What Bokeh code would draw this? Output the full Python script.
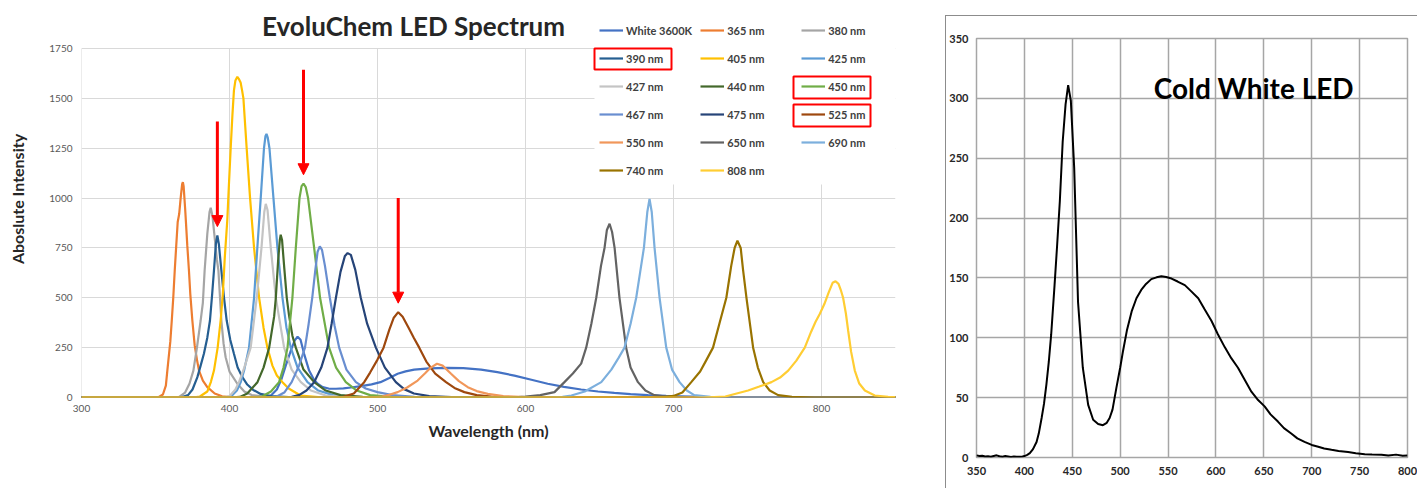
from bokeh.plotting import figure
from bokeh.models import (Legend, LegendItem, Arrow, NormalHead, BoxAnnotation,
                          FixedTicker, Range1d, Label)
from bokeh.layouts import row
from bokeh.embed import file_html
from bokeh.resources import INLINE

FONT = "Lato"

# ---------------- data: left chart (EvoluChem LED Spectrum) ----------------
series_names = ["White 3600K", "365 nm", "380 nm", "390 nm", "405 nm", "425 nm",
                "427 nm", "440 nm", "450 nm", "467 nm", "475 nm", "525 nm",
                "550 nm", "650 nm", "690 nm", "740 nm", "808 nm"]
series_colors = ["#4472C4", "#ED7D31", "#A5A5A5", "#255E91", "#FFC000", "#5B9BD5",
                 "#C4C4C4", "#43682B", "#70AD47", "#698ED0", "#264478", "#9E480E",
                 "#F1975A", "#636363", "#7CAFDD", "#997300", "#FFCD33"]

wl_white = [300, 420, 425, 428, 432, 435, 438, 441.9, 444, 446, 448, 450.4, 453.8, 457, 459.5, 463, 467, 472, 477, 482,
            490, 496, 502, 508, 513.6, 519, 524.8, 535, 547.4, 558, 570, 581, 592.5, 604, 615, 626, 637.6, 649, 660, 671,
            682.7, 695, 705, 720, 740, 760, 850]
int_white = [0, 0, 3, 10, 40, 90, 160, 245, 285, 305, 290, 219, 135, 90, 69, 52, 45, 44, 46, 50,
             58, 66, 77, 98, 119, 131, 140, 146, 149, 147, 140, 127, 110, 89, 69, 53, 40, 30, 23, 17,
             12, 8, 6, 3, 1, 0, 0]

wl_365 = [300, 345, 352, 355, 357, 358, 360, 361, 362, 363, 364, 365, 366, 367, 368, 368.5, 369, 370, 370.5, 371.5,
          372.6, 373.5, 374.9, 376.5, 378, 379.4, 382, 385, 390, 395, 400, 420, 850]
int_365 = [0, 0, 2, 15, 60, 135, 280, 386, 500, 637, 760, 880, 920, 1000, 1070, 1080, 1060, 950, 888, 760,
           637, 520, 386, 260, 190, 135, 85, 52, 20, 6, 2, 0, 0]

wl_380 = [300, 360, 366, 370, 373, 375.6, 378, 380.5, 382, 383.2, 385, 386.5, 387.3, 388.5, 390, 391.5, 392.5, 394.5,
          396, 397.4, 400, 405.3, 410, 415, 425, 440, 850]
int_380 = [0, 0, 3, 25, 70, 135, 250, 386, 475, 637, 820, 930, 951, 910, 800, 690, 637, 386,
           270, 202, 130, 69, 30, 12, 3, 0, 0]

wl_390 = [300, 360, 368, 372, 375, 378.3, 380.5, 382.7, 385, 386.8, 388.3, 389.5, 390.8, 391.8, 392.8, 393.7, 394.5,
          396.3, 398.1, 400.5, 403, 405.5, 408.7, 412, 416, 421, 428, 440, 460, 850]
int_390 = [0, 0, 2, 12, 40, 102, 160, 219, 300, 386, 520, 637, 770, 812, 770, 700, 637,
           500, 386, 290, 219, 150, 102, 65, 38, 18, 7, 2, 0, 0]

wl_405 = [300, 375, 380, 385, 387.5, 389.5, 392, 394, 395.5, 396.8, 398.5, 399.5, 400.8, 402, 403, 404, 405.3, 406.5,
          407.5, 408.5, 409.4, 411.6, 413.9, 416.6, 420, 423, 425.6, 429, 432, 435.8, 440, 448, 460, 480, 850]
int_405 = [0, 0, 5, 30, 80, 135, 250, 386, 520, 700, 888, 1050, 1250, 1420, 1540, 1590, 1608, 1595,
           1580, 1540, 1500, 1250, 1000, 750, 500, 350, 250, 160, 110, 77, 45, 10, 2, 0, 0]

wl_425 = [300, 395, 401, 405, 407.6, 410, 413.2, 416.6, 418.8, 421.1, 423.3, 424.3, 425, 425.8, 427, 429.7, 432.4,
          435.8, 438.5, 441.4, 446, 452.7, 460, 470, 485, 500, 850]
int_425 = [0, 0, 5, 35, 77, 140, 250, 500, 750, 1000, 1250, 1310, 1322, 1305, 1250, 1000, 750,
           500, 350, 250, 150, 77, 35, 12, 3, 0, 0]

wl_427 = [300, 395, 400, 404, 406.4, 410, 414.3, 418.4, 421.6, 423.5, 424.5, 425.7, 427.9, 431.3, 436.9, 442, 448.2,
          455, 465, 480, 500, 850]
int_427 = [0, 0, 6, 40, 77, 150, 250, 500, 750, 930, 971, 940, 750, 500, 250, 140, 77,
           35, 10, 2, 0, 0]

wl_440 = [300, 400, 407, 412, 418.9, 423, 426.8, 430.2, 431.3, 432.8, 434, 434.6, 435.5, 437, 438.7, 440.3, 442.5,
          444.8, 450, 457.2, 465, 475, 490, 510, 850]
int_440 = [0, 0, 3, 20, 77, 150, 250, 408, 500, 680, 790, 816, 790, 650, 500, 408, 310,
           250, 140, 77, 35, 12, 3, 0, 0]

wl_450 = [300, 415, 422, 428, 433.5, 436.5, 439.2, 442.5, 444.8, 447.3, 448.7, 450, 451.5, 453.1, 457.2, 461.2, 467.3,
          472, 478.6, 486, 495, 510, 530, 850]
int_450 = [0, 0, 5, 30, 77, 150, 250, 500, 750, 1000, 1060, 1072, 1055, 1000, 750, 500, 250,
           150, 77, 35, 12, 3, 0, 0]

wl_467 = [300, 425, 432, 437, 442, 447, 451, 453.5, 455.9, 458, 459.5, 461, 462.5, 464.5, 467.8, 471, 474.1,
          479, 485.4, 492, 500, 510, 525, 545, 850]
int_467 = [0, 0, 5, 25, 77, 160, 250, 370, 500, 640, 730, 758, 740, 660, 500, 360, 250,
           140, 77, 45, 27, 12, 3, 0, 0]

wl_475 = [300, 435, 442, 447, 452, 457.2, 462, 466.2, 469, 471.9, 475, 478, 479.8, 482, 485, 488.7, 493,
          498.9, 505, 512.4, 518, 524.6, 535, 550, 570, 850]
int_475 = [0, 0, 3, 12, 35, 77, 150, 250, 370, 500, 630, 710, 724, 715, 640, 500, 370,
           250, 150, 77, 42, 20, 7, 2, 0, 0]

wl_525 = [300, 470, 477, 484, 491, 495, 500, 504.1, 508, 511, 514, 517, 521, 524.5, 528.2, 533, 539,
          546.3, 552, 558.7, 567, 577, 590, 850]
int_525 = [0, 0, 3, 20, 77, 125, 190, 250, 340, 400, 428, 405, 350, 300, 250, 180, 120,
           77, 48, 27, 12, 4, 0, 0]

wl_550 = [300, 495, 503, 508, 513.6, 520, 527.1, 532, 536, 540.2, 544, 549.7, 555, 561, 567, 574.5, 585, 600, 620, 850]
int_550 = [0, 0, 5, 14, 27, 50, 85, 120, 150, 169, 160, 119, 82, 52, 32, 18, 7, 2, 0, 0]

wl_650 = [300, 590, 600, 610, 619.6, 626.3, 632, 637.6, 641, 644.5, 647.8, 651, 653.4, 655, 656.8, 658.5, 660.2,
          663.5, 668, 671, 676, 681, 687, 695, 710, 850]
int_650 = [0, 0, 4, 12, 27, 77, 120, 170, 250, 370, 500, 660, 750, 840, 871, 830, 750,
           500, 250, 150, 77, 35, 12, 4, 0, 0]

wl_690 = [300, 615, 625, 631, 640, 651.2, 658, 663, 666.9, 671, 674.8, 677.5, 680, 682.3, 683.8, 685.3, 687.2,
          690.6, 695.1, 699, 704.1, 709, 714, 725, 740, 850]
int_690 = [0, 0, 3, 10, 30, 77, 140, 200, 250, 370, 500, 630, 750, 930, 996, 930, 750,
           500, 250, 140, 77, 35, 12, 3, 0, 0]

wl_740 = [300, 690, 700, 706, 712, 718, 722, 726.7, 731, 735.7, 739, 741.3, 743.2, 745.4, 747, 749.3, 753.8,
          757, 760.6, 765, 770.7, 780, 795, 850]
int_740 = [0, 0, 8, 25, 77, 130, 185, 250, 370, 500, 660, 750, 786, 750, 640, 500, 250,
           150, 77, 35, 12, 3, 0, 0]

wl_808 = [300, 720, 735, 750.4, 758, 766.2, 772, 777.5, 783, 788.7, 793, 796, 798.9, 802, 805, 807.5, 809.5, 811.5,
          813, 814.6, 816.5, 818, 820, 822.5, 825.5, 829.3, 836, 845, 850]
int_808 = [0, 0, 5, 35, 55, 77, 100, 135, 185, 250, 330, 380, 420, 470, 530, 575, 583, 570,
           540, 500, 420, 336, 230, 135, 70, 35, 10, 3, 2]

series_wl = [wl_white, wl_365, wl_380, wl_390, wl_405, wl_425, wl_427, wl_440, wl_450,
             wl_467, wl_475, wl_525, wl_550, wl_650, wl_690, wl_740, wl_808]
series_int = [int_white, int_365, int_380, int_390, int_405, int_425, int_427, int_440, int_450,
              int_467, int_475, int_525, int_550, int_650, int_690, int_740, int_808]

left_x_ticks = [300, 400, 500, 600, 700, 800]
left_y_ticks = [0, 250, 500, 750, 1000, 1250, 1500, 1750]
highlighted = ["390 nm", "450 nm", "525 nm"]

# ---------------- data: right chart (Cold White LED) ----------------
cw_wl = [350, 353, 356, 359, 362, 365, 368, 371, 374, 377, 380, 383, 386, 389, 392, 395, 398, 400, 403, 405.7,
         409, 412.7, 415, 418, 420.5, 423, 425.5, 428, 431.5, 434, 437, 440, 443, 445.7, 448.5, 452, 456, 461,
         466.6, 471.8, 477, 482, 486, 489, 492, 496, 500, 503, 507, 512, 517, 522, 527, 532.5, 538, 543, 548,
         553.6, 560, 567.5, 574, 581.5, 588, 595.4, 602, 609.3, 616, 623, 630, 637, 644, 650.8, 657, 664.7, 671,
         678.6, 685, 692.5, 700, 706.8, 713, 720.7, 728, 738, 746, 755.4, 763, 772.8, 780, 788, 795, 800]
cw_int = [1.8, 1.2, 1.5, 0.8, 1.0, 0.6, 1.3, 1.8, 1.0, 0.7, 1.2, 0.9, 0.5, 0.8, 0.6, 0.7, 0.9, 1.2, 2.2, 3.6,
          7, 13, 20, 33, 45, 61, 80, 103, 144, 175, 214, 264, 295, 311, 298, 242, 130, 75,
          44, 31.5, 28, 27, 29, 33, 40, 58, 75, 89, 106, 122, 133, 140, 145, 149, 150.5, 151.4, 150.8,
          149.5, 147, 144, 139, 133, 124, 114, 103, 92, 83, 75, 65, 55, 48, 42.7, 36, 30, 24.5,
          20, 16, 13, 10.5, 9, 7.5, 6.4, 5.5, 4.5, 3.5, 2.8, 2.5, 2.2, 1.6, 2.4, 1.5, 1.7]
right_x_ticks = [350, 400, 450, 500, 550, 600, 650, 700, 750, 800]
right_y_ticks = [0, 50, 100, 150, 200, 250, 300, 350]

# ---------------- left figure ----------------
# frame spans from the top of the canvas so that title and legend lie inside it
FL, FT, FW, FH = 81, 0, 814, 397
Y_TOP = 1750.0 * 397 / 349          # value at the very top of the frame
p = figure(frame_width=FW, frame_height=FH, min_border_left=FL, min_border_top=FT,
           min_border_right=945 - FL - FW, min_border_bottom=488 - FT - FH,
           x_range=Range1d(300, 850), y_range=Range1d(0, Y_TOP),
           output_backend="svg", toolbar_location=None)
if "frame_align" in p.properties():
    p.frame_align = False
p.outline_line_color = None
p.background_fill_color = "white"
p.xaxis.ticker = FixedTicker(ticks=left_x_ticks)
p.yaxis.ticker = FixedTicker(ticks=left_y_ticks)
for ax in (p.xaxis[0], p.yaxis[0]):
    ax.axis_line_color = None
    ax.major_tick_line_color = None
    ax.minor_tick_line_color = None
    ax.major_tick_out = 0
    ax.major_tick_in = 0
    ax.minor_tick_out = 0
    ax.minor_tick_in = 0
    ax.major_label_text_font = FONT
    ax.major_label_text_font_size = "10px"
    ax.major_label_text_color = "#595959"
    ax.axis_label_text_font = FONT
    ax.axis_label_text_font_size = "16px"
    ax.axis_label_text_font_style = "bold"
    ax.axis_label_text_color = "#262626"
p.xaxis.major_label_standoff = 7
p.yaxis.major_label_standoff = 9
p.xaxis.axis_label = "Wavelength (nm)"
p.yaxis.axis_label = "Aboslute Intensity"
p.xaxis.axis_label_standoff = 6
p.yaxis.axis_label_standoff = 19
p.xgrid.grid_line_color = None
p.ygrid.grid_line_color = "#D9D9D9"
# vertical grid lines only up to the top tick (as in the reference)
p.segment(x0=left_x_ticks, y0=[left_y_ticks[0]] * len(left_x_ticks),
          x1=left_x_ticks, y1=[left_y_ticks[-1]] * len(left_x_ticks),
          line_color="#D9D9D9", line_width=1)

renderers = {}
for name, color, wl, it in zip(series_names, series_colors, series_wl, series_int):
    renderers[name] = p.line(wl, it, line_color=color, line_width=2.2)


def to_x(px):
    return 300 + (px - FL) * 550.0 / FW


def to_y(py):
    return (FT + FH - py) * Y_TOP / FH


# white background behind the legend (hides grid lines there)
p.quad(left=[to_x(594)], right=[850], top=[to_y(13)], bottom=[to_y(184)],
       fill_color="white", line_color=None)

# legend (3 columns, row-major), transparent so the red boxes stay visible
items = [LegendItem(label=n, renderers=[renderers[n]]) for n in series_names]
legend = Legend(items=items, orientation="horizontal", ncols=3,
                location=(599 - FL, FT + FH - 180), padding=6, margin=0, spacing=8,
                glyph_width=24, glyph_height=20, label_height=20, label_width=66,
                label_standoff=3, border_line_color=None, background_fill_alpha=0.0,
                label_text_font=FONT, label_text_font_size="11px",
                label_text_font_style="bold", label_text_color="#404040")
p.add_layout(legend)

# red boxes around the highlighted legend entries
for (x0, x1, y0, y1) in [(594, 671, 48, 69), (793, 870, 76, 98), (793, 870, 104, 126)]:
    p.add_layout(BoxAnnotation(left=to_x(x0), right=to_x(x1), top=to_y(y0), bottom=to_y(y1),
                               fill_alpha=0, line_color="#FF0000", line_alpha=1.0,
                               line_width=2, level="overlay"))

# red arrows pointing at the highlighted peaks
for n in highlighted:
    i = series_names.index(n)
    wl, it = series_wl[i], series_int[i]
    k = max(range(len(it)), key=lambda j: it[j])
    px, pk = wl[k], it[k]
    p.add_layout(Arrow(end=NormalHead(size=11, fill_color="#FF0000", line_color="#FF0000", line_width=1),
                       x_start=px, y_start=pk + 45 + 527, x_end=px, y_end=pk + 45,
                       line_color="#FF0000", line_width=3))

p.add_layout(Label(x=to_x(413), y=to_y(25), text="EvoluChem LED Spectrum",
                   text_font=FONT, text_font_size="26px", text_font_style="bold",
                   text_color="#262626", text_align="center", text_baseline="middle"))

# ---------------- right figure ----------------
q = figure(frame_width=430, frame_height=418, min_border_left=29, min_border_top=22,
           min_border_right=12, min_border_bottom=32,
           x_range=Range1d(350, 800), y_range=Range1d(0, 350),
           output_backend="svg", toolbar_location=None,
           margin=(15, 0, 0, 0),
           styles={"border-left": "1px solid #8C8C8C", "border-top": "1px solid #8C8C8C"})
if "frame_align" in q.properties():
    q.frame_align = False
q.outline_line_color = "#A6A6A6"
q.outline_line_width = 1.5
q.xaxis.ticker = FixedTicker(ticks=right_x_ticks)
q.yaxis.ticker = FixedTicker(ticks=right_y_ticks)
for ax in (q.xaxis[0], q.yaxis[0]):
    ax.axis_line_color = None
    ax.major_tick_line_color = None
    ax.minor_tick_line_color = None
    ax.major_tick_out = 0
    ax.major_tick_in = 0
    ax.minor_tick_out = 0
    ax.minor_tick_in = 0
    ax.axis_label_standoff = 0
    ax.major_label_text_font = FONT
    ax.major_label_text_font_size = "11px"
    ax.major_label_text_font_style = "bold"
    ax.major_label_text_color = "#262626"
q.xaxis.major_label_standoff = 9
q.yaxis.major_label_standoff = 8
q.xgrid.grid_line_color = "#A6A6A6"
q.ygrid.grid_line_color = "#A6A6A6"
q.xgrid.grid_line_width = 1.5
q.ygrid.grid_line_width = 1.5
q.line(cw_wl, cw_int, line_color="black", line_width=2)
q.add_layout(Label(x=535, y=309, text="Cold White LED", text_font=FONT, text_font_size="28px",
                   text_font_style="bold", text_color="black", text_align="left",
                   text_baseline="middle"))

layout = row(p, q)
open("out.html", "w").write(file_html(layout, INLINE))
